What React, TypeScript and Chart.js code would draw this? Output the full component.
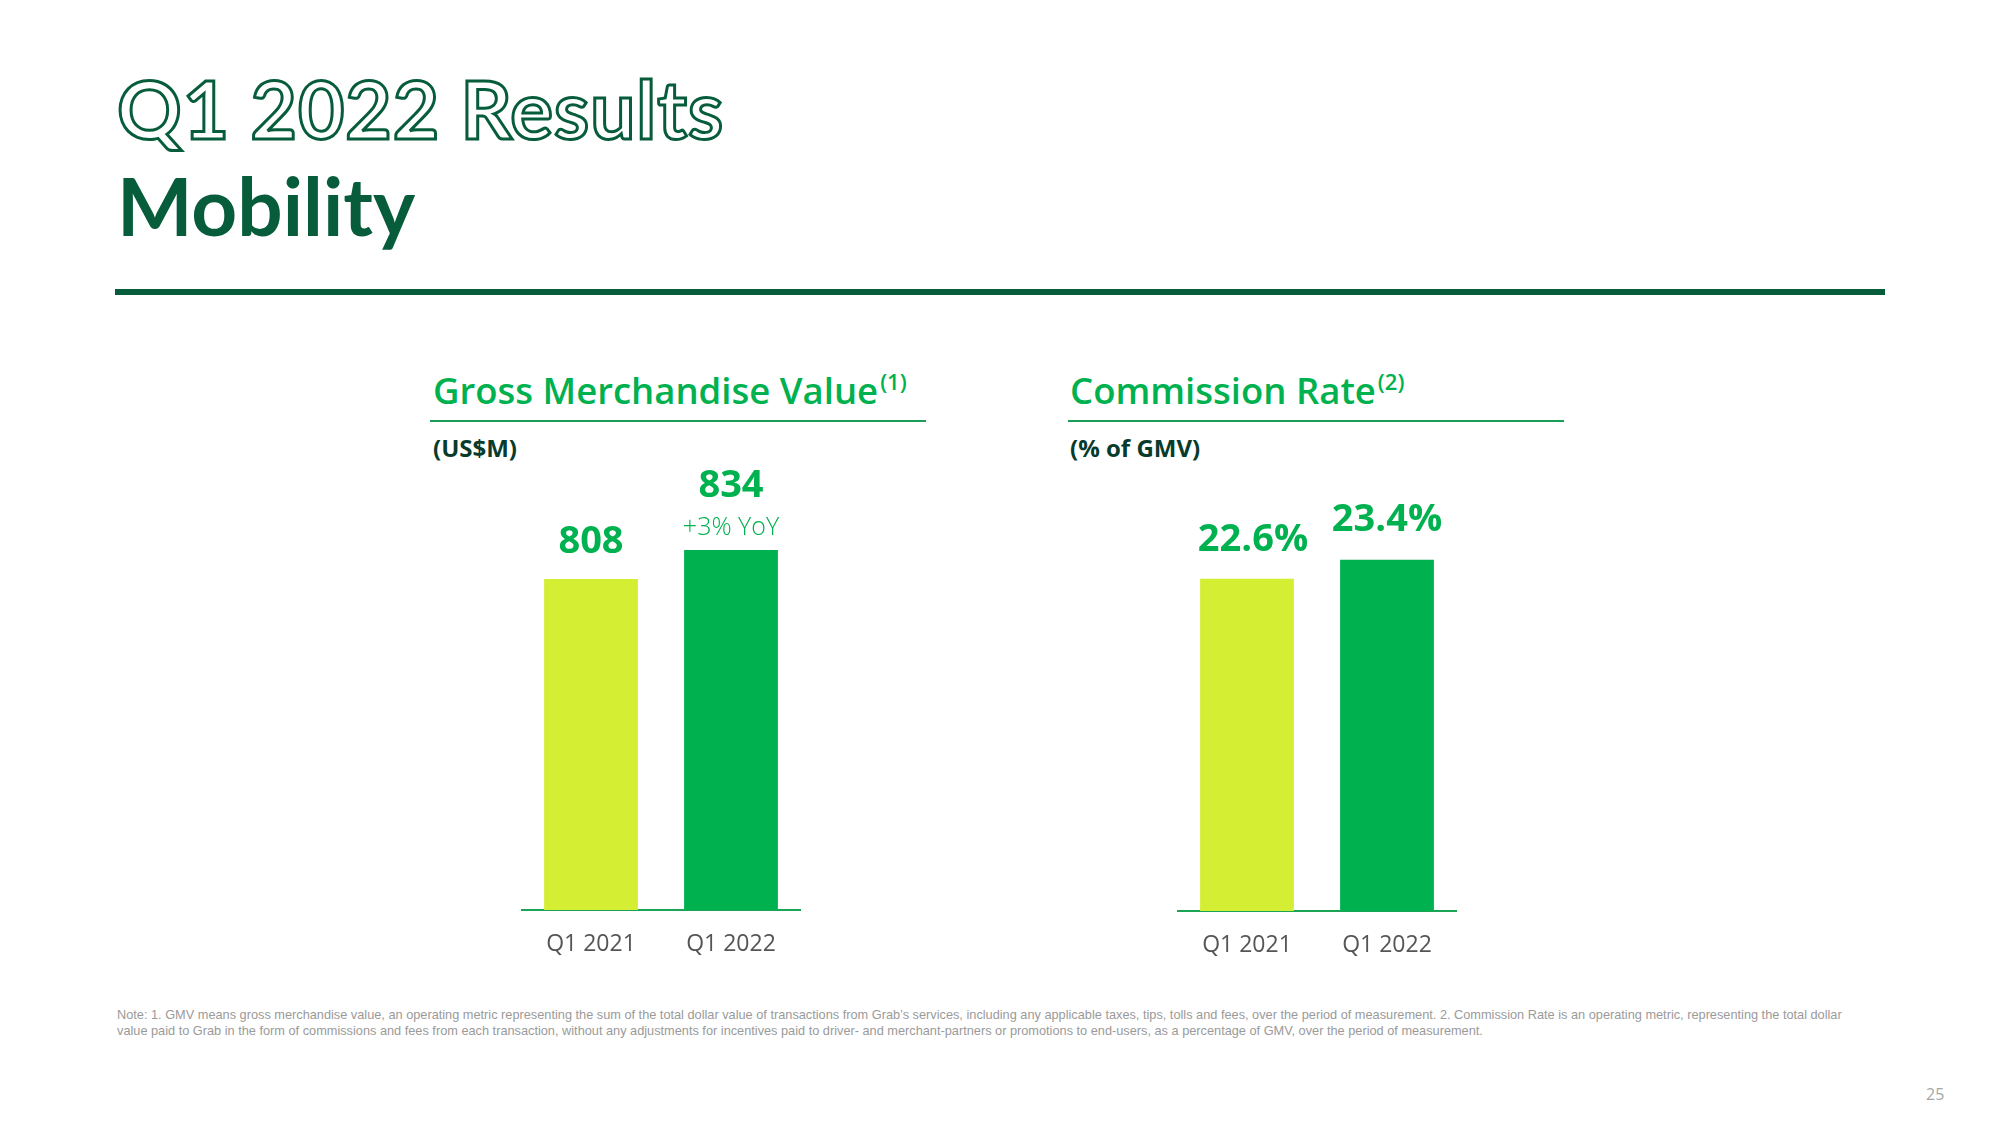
import React, { useEffect, useRef } from "react";
import { Chart, registerables } from "chart.js";

Chart.register(...registerables);

// ---- Data ----
const categories = ["Q1 2021", "Q1 2022"];
const gmvValues = [808, 834];
const gmvValueLabels = ["808", "834"];
const gmvYoYLabel = "+3% YoY";
const commissionValues = [22.6, 23.4];
const commissionValueLabels = ["22.6%", "23.4%"];
const gmvAxisRange = [513, 932];
const commissionAxisRange = [8.6, 28.4];
const barColors = ["#d4ef33", "#00b14f"];

const GREEN = "#00b14f";
const DARK = "#075c3b";

const valueLabelPlugin = {
  id: "valueLabels",
  afterDatasetsDraw(chart: any, _args: any, opts: any) {
    const meta = chart.getDatasetMeta(0);
    const ctx = chart.ctx;
    (opts.items || []).forEach((it: any) => {
      const el = meta.data[it.index];
      if (!el) return;
      ctx.save();
      ctx.font = it.font;
      ctx.fillStyle = it.color;
      ctx.textAlign = "center";
      ctx.textBaseline = "alphabetic";
      ctx.fillText(it.text, el.x + (it.dx || 0), el.y - it.offset);
      ctx.restore();
    });
  },
};

function BarChart(props: {
  values: number[];
  range: number[];
  items: any[];
  left: number;
  top: number;
  width: number;
  height: number;
}) {
  const ref = useRef<HTMLCanvasElement | null>(null);
  useEffect(() => {
    if (!ref.current) return;
    const chart = new Chart(ref.current, {
      type: "bar",
      data: {
        labels: categories,
        datasets: [
          {
            data: props.values,
            backgroundColor: barColors,
            borderWidth: 0,
            categoryPercentage: 1,
            barPercentage: 0.67,
          },
        ],
      },
      options: {
        animation: false,
        responsive: false,
        devicePixelRatio: 1,
        layout: { padding: 0 },
        plugins: {
          legend: { display: false },
          tooltip: { enabled: false },
          valueLabels: { items: props.items },
        } as any,
        scales: {
          x: {
            grid: { display: false, drawTicks: false },
            border: { display: true, color: "#1ca456", width: 2 },
            ticks: {
              color: "#555555",
              font: { family: "Open Sans", size: 23 },
              padding: 21,
            },
            afterFit: (s: any) => {
              s.height = 70;
            },
          },
          y: {
            display: false,
            min: props.range[0],
            max: props.range[1],
          },
        },
      },
      plugins: [valueLabelPlugin],
    });
    return () => chart.destroy();
  }, []);
  return (
    <canvas
      ref={ref}
      width={props.width}
      height={props.height}
      style={{
        position: "absolute",
        left: props.left,
        top: props.top,
        width: props.width,
        height: props.height,
      }}
    />
  );
}

const boldValue = "bold 38px 'Open Sans'";

export default function App() {
  const heading: React.CSSProperties = {
    position: "absolute",
    fontFamily: "'Open Sans', sans-serif",
    fontWeight: 600,
    fontSize: 36.5,
    color: GREEN,
    lineHeight: "50px",
    whiteSpace: "nowrap",
  };
  const sup: React.CSSProperties = {
    fontSize: 22,
    position: "relative",
    top: -14,
    marginLeft: 2,
  };
  const sub: React.CSSProperties = {
    position: "absolute",
    fontFamily: "'Open Sans', sans-serif",
    fontWeight: 700,
    fontSize: 24,
    color: "#083b2c",
    lineHeight: "30px",
    whiteSpace: "nowrap",
  };
  return (
    <div
      style={{
        position: "fixed",
        left: 0,
        top: 0,
        width: 2000,
        height: 1125,
        background: "#ffffff",
        overflow: "hidden",
      }}
    >
      <div
        style={{
          position: "absolute",
          left: 117,
          top: 58,
          fontFamily: "Lato, sans-serif",
          fontWeight: 700,
          fontSize: 80,
          lineHeight: "100px",
          color: "#ffffff",
          WebkitTextStroke: `3px ${DARK}`,
          whiteSpace: "nowrap",
          letterSpacing: 1,
        }}
      >
        Q1 2022 Results
      </div>
      <div
        style={{
          position: "absolute",
          left: 117,
          top: 155,
          fontFamily: "Lato, sans-serif",
          fontWeight: 700,
          fontSize: 80,
          lineHeight: "100px",
          color: DARK,
          whiteSpace: "nowrap",
        }}
      >
        Mobility
      </div>
      <div
        style={{
          position: "absolute",
          left: 115,
          top: 289,
          width: 1770,
          height: 6,
          background: DARK,
        }}
      />

      {/* GMV panel */}
      <div style={{ ...heading, left: 433, top: 365 }}>
        Gross Merchandise Value<span style={sup}>(1)</span>
      </div>
      <div
        style={{
          position: "absolute",
          left: 430,
          top: 420,
          width: 496,
          height: 2,
          background: "#1a9e57",
        }}
      />
      <div style={{ ...sub, left: 433, top: 433 }}>(US$M)</div>

      {/* Commission panel */}
      <div style={{ ...heading, left: 1070, top: 365 }}>
        Commission Rate<span style={sup}>(2)</span>
      </div>
      <div
        style={{
          position: "absolute",
          left: 1068,
          top: 420,
          width: 496,
          height: 2,
          background: "#1a9e57",
        }}
      />
      <div style={{ ...sub, left: 1070, top: 433 }}>(% of GMV)</div>

      <BarChart
        values={gmvValues}
        range={gmvAxisRange}
        left={521}
        top={440}
        width={280}
        height={540}
        items={[
          { index: 0, text: gmvValueLabels[0], font: boldValue, color: GREEN, offset: 26 },
          { index: 1, text: gmvValueLabels[1], font: boldValue, color: GREEN, offset: 53 },
          { index: 1, text: gmvYoYLabel, font: "300 25px 'Open Sans'", color: GREEN, offset: 15 },
        ]}
      />
      <BarChart
        values={commissionValues}
        range={commissionAxisRange}
        left={1177}
        top={441}
        width={280}
        height={540}
        items={[
          { index: 0, text: commissionValueLabels[0], font: boldValue, color: GREEN, offset: 28, dx: 6 },
          { index: 1, text: commissionValueLabels[1], font: boldValue, color: GREEN, offset: 29, dx: 0 },
        ]}
      />

      <div
        style={{
          position: "absolute",
          left: 117,
          top: 1007,
          fontFamily: "'Liberation Sans', sans-serif",
          fontSize: 12.75,
          lineHeight: "16px",
          color: "#9a9a9a",
          whiteSpace: "nowrap",
        }}
      >
        Note: 1. GMV means gross merchandise value, an operating metric representing the sum of the total dollar value of
        transactions from Grab’s services, including any applicable taxes, tips, tolls and fees, over the period of
        measurement. 2. Commission Rate is an operating metric, representing the total dollar
        <br />
        value paid to Grab in the form of commissions and fees from each transaction, without any adjustments for
        incentives paid to driver- and merchant-partners or promotions to end-users, as a percentage of GMV, over the
        period of measurement.
      </div>
      <div
        style={{
          position: "absolute",
          left: 1926,
          top: 1083,
          fontFamily: "'Open Sans', sans-serif",
          fontSize: 16,
          color: "#a6a6a6",
        }}
      >
        25
      </div>
    </div>
  );
}
